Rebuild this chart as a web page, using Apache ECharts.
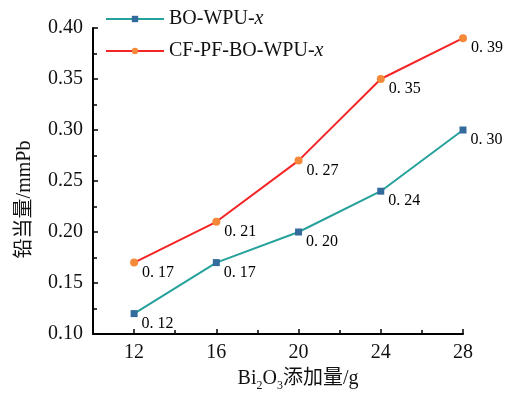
<!DOCTYPE html>
<html>
<head>
<meta charset="utf-8">
<script src="https://cdn.jsdelivr.net/npm/echarts@6/dist/echarts.min.js"></script>
<style>
  html, body { margin: 0; padding: 0; background: #fff; }
  #chart { width: 512px; height: 397px; }
</style>
</head>
<body>
<div id="chart"></div>
<script>
// Bi2O3 amount (g)
const bi2o3 = [12, 16, 20, 24, 28];
const boWpu = [0.12, 0.17, 0.20, 0.24, 0.30];
const cfPfBoWpu = [0.17, 0.21, 0.27, 0.35, 0.39];
const majorTicks = [12, 16, 20, 24, 28];
const minorTicks = [14, 18, 22, 26];

const serif = '"Liberation Serif", "Noto Sans CJK SC", serif';

function pairs(ys) {
  return bi2o3.map((x, i) => [x, ys[i]]);
}

const chart = echarts.init(document.getElementById('chart'));

const labelOpt = {
  show: true,
  position: 'right',
  distance: 3,
  offset: [1, 10],
  color: '#000',
  fontFamily: serif,
  fontSize: 16,
  formatter: p => p.value[1].toFixed(2).replace('.', '. ')
};

let option = {
  animation: false,
  grid: { left: 93, right: 49, top: 28, bottom: 62 },
  legend: {
    orient: 'vertical',
    left: 100,
    top: 4,
    itemWidth: 58,
    itemHeight: 8,
    itemGap: 12,
    textStyle: {
      fontFamily: serif,
      fontSize: 20,
      color: '#111',
      rich: {
        i: { fontFamily: serif, fontSize: 20, fontStyle: 'italic', color: '#111' }
      }
    },
    formatter: name => name.replace(/-x$/, '-{i|x}'),
    data: ['BO-WPU-x', 'CF-PF-BO-WPU-x']
  },
  xAxis: [
    {
      type: 'value',
      min: 10,
      max: 28,
      name: 'Bi{s|2}O{s|3}添加量/g',
      nameLocation: 'middle',
      nameGap: 32,
      nameTextStyle: {
        fontFamily: serif,
        fontSize: 20,
        color: '#111',
        padding: [0, 0, 0, 40],
        rich: {
          s: { fontFamily: serif, fontSize: 12, color: '#111', verticalAlign: 'bottom', lineHeight: 26 }
        }
      },
      axisLine: { lineStyle: { color: '#000', width: 2 } },
      axisTick: { inside: true, length: 5, customValues: majorTicks, lineStyle: { color: '#000', width: 1.5 } },
      axisLabel: { customValues: majorTicks, fontFamily: serif, fontSize: 20, color: '#111', margin: 9 },
      splitLine: { show: false }
    },
    {
      type: 'value',
      min: 10,
      max: 28,
      position: 'bottom',
      axisLine: { show: false },
      axisTick: { inside: true, length: 4, customValues: minorTicks, lineStyle: { color: '#000', width: 1.5 } },
      axisLabel: { show: false },
      splitLine: { show: false }
    }
  ],
  yAxis: {
    type: 'value',
    min: 0.1,
    max: 0.4,
    interval: 0.05,
    name: '铅当量/mmPb',
    nameLocation: 'middle',
    nameGap: 58,
    nameTextStyle: {
      fontFamily: serif,
      fontSize: 20,
      color: '#111',
      padding: [0, 37, 0, 0]
    },
    axisLine: { show: true, lineStyle: { color: '#000', width: 2 } },
    axisTick: { show: true, inside: true, length: 5, lineStyle: { color: '#000', width: 1.5 } },
    minorTick: { show: true, splitNumber: 2, length: 4, lineStyle: { color: '#000', width: 1.5 } },
    axisLabel: {
      fontFamily: serif,
      fontSize: 20,
      color: '#111',
      margin: 10,
      formatter: v => v.toFixed(2)
    },
    splitLine: { show: false }
  },
  series: [
    {
      name: 'BO-WPU-x',
      type: 'line',
      data: pairs(boWpu),
      symbol: 'rect',
      symbolSize: 7,
      lineStyle: { color: '#26a19b', width: 2 },
      itemStyle: { color: '#336b9d' },
      label: labelOpt
    },
    {
      name: 'CF-PF-BO-WPU-x',
      type: 'line',
      data: pairs(cfPfBoWpu),
      symbol: 'circle',
      symbolSize: 8,
      lineStyle: { color: '#f52525', width: 2 },
      itemStyle: { color: '#f5893a' },
      label: labelOpt
    }
  ]
};

chart.setOption(option);
</script>
</body>
</html>
